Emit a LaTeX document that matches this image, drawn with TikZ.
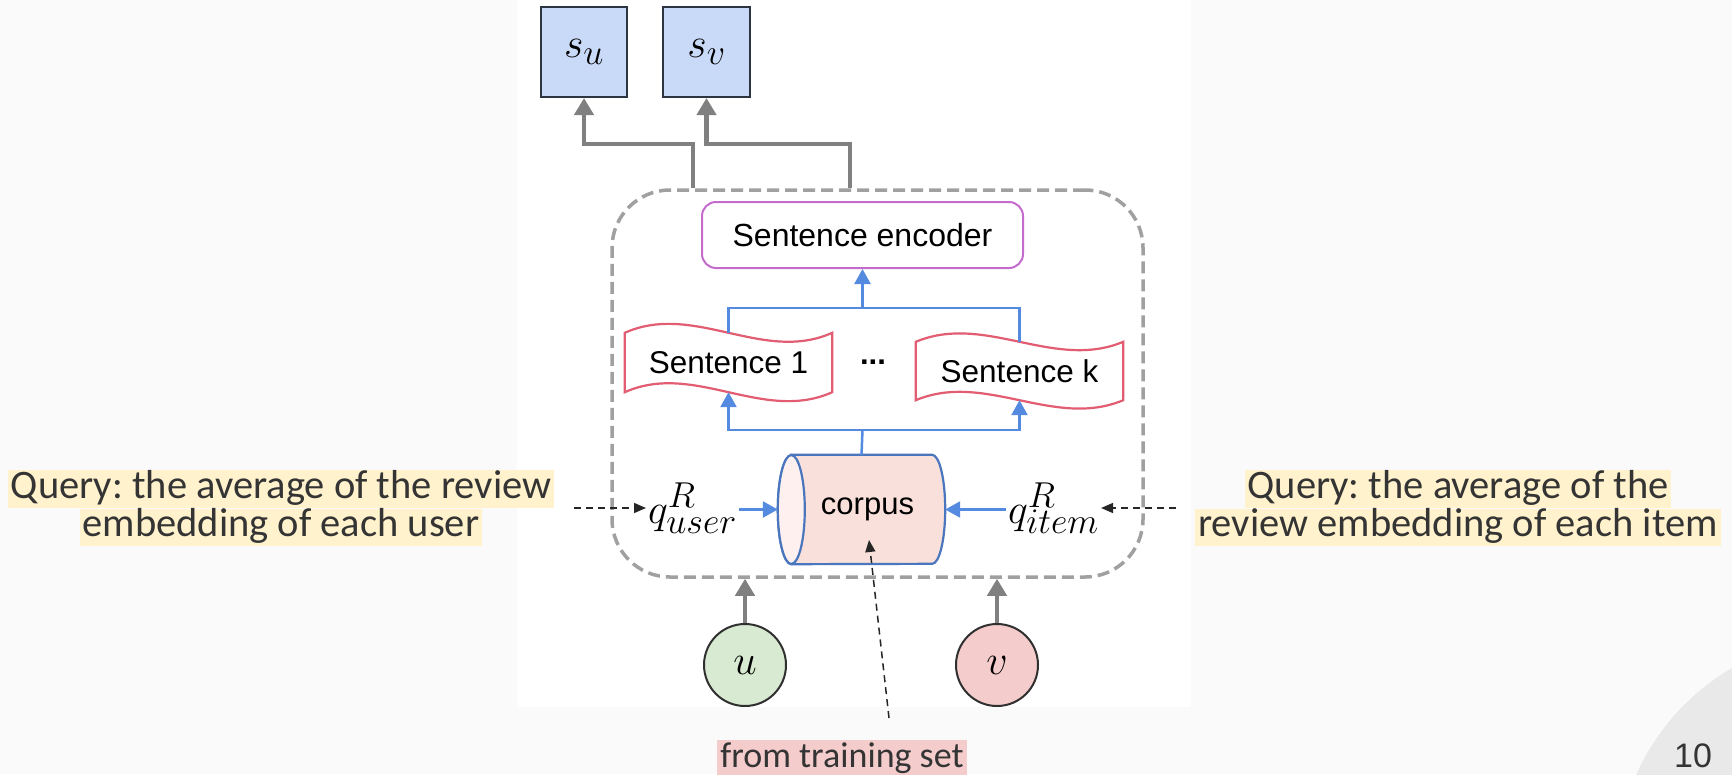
\RequirePackage{fix-cm}
\documentclass[tikz,border=0pt]{standalone}
\usepackage{fontspec}
\setmainfont{Liberation Sans}
\newfontfamily\slidefont{Carlito}
\usetikzlibrary{arrows.meta,calc}
\DeclareMathSizes{42}{42}{36}{28}
\frenchspacing

\definecolor{slidebg}{RGB}{250,250,250}
\definecolor{cornergray}{RGB}{233,233,233}
\definecolor{textdark}{RGB}{52,52,52}
\definecolor{hlyellow}{RGB}{255,242,204}
\definecolor{hlpink}{RGB}{244,204,204}
\definecolor{sboxfill}{RGB}{201,218,248}
\definecolor{sboxline}{RGB}{45,52,66}
\definecolor{arrowgray}{RGB}{128,128,128}
\definecolor{framegray}{RGB}{160,160,160}
\definecolor{encpurple}{RGB}{196,108,206}
\definecolor{sentred}{RGB}{226,92,114}
\definecolor{flowblue}{RGB}{84,139,224}
\definecolor{corpusfill}{RGB}{250,224,218}
\definecolor{corpusend}{RGB}{253,240,238}
\definecolor{corpusline}{RGB}{74,118,190}
\definecolor{ufill}{RGB}{217,234,211}
\definecolor{vfill}{RGB}{244,204,204}
\definecolor{circline}{RGB}{48,48,48}

\pgfdeclarelayer{bg}
\pgfsetlayers{bg,main}

% one highlighted line of slide text
\newcommand\hlrow[2]{{\setlength{\fboxsep}{0pt}\colorbox{#1}{\hspace{3pt}\rule[-9pt]{0pt}{37pt}#2\hspace{3pt}}}}

% wavy (tape) outline around a node: #1 node name, #2 wave control offset
\newcommand\tapeoutline[2]{%
  \path[sentline] let \p1=(#1.north west), \p2=(#1.south east), \n1={(\x2-\x1)/3} in
    (\x1,\y1) .. controls (\x1+\n1,\y1+#2) and (\x2-\n1,\y1-#2) .. (\x2,\y1)
    -- (\x2,\y2) .. controls (\x2-\n1,\y2-#2) and (\x1+\n1,\y2+#2) .. (\x1,\y2) -- cycle;}

% horizontal cylinder filling a node's box: #1 node name
\newcommand\cylinderbody[1]{%
  \filldraw[corpusbody] let \p1=(#1.north west), \p2=(#1.south east) in
    (\x1+13.5pt,\y1) -- (\x2-13pt,\y1)
    arc[start angle=90, end angle=-90, x radius=13pt, y radius=54.5pt]
    -- (\x1+13.5pt,\y2)
    arc[start angle=270, end angle=90, x radius=13.5pt, y radius=54.5pt] -- cycle;
  \filldraw[corpuscap] let \p3=(#1.west) in
    (\x3+13.5pt,\y3) ellipse[x radius=13.5pt, y radius=54.5pt];}

\begin{document}
\begin{tikzpicture}[x=1pt,y=-1pt,
  mathfont/.style={font=\fontsize{42}{48}\selectfont},
  sbox/.style={draw=sboxline, fill=sboxfill, line width=2pt, minimum width=86pt,
    minimum height=90pt, inner sep=0pt, mathfont},
  grayarrow/.style={draw=arrowgray, line width=4.5pt, -{Triangle[width=19pt,length=17pt]}},
  framebox/.style={draw=framegray, line width=3.5pt, dash pattern=on 12pt off 6pt,
    rounded corners=58pt, minimum width=531pt, minimum height=387pt},
  encbox/.style={draw=encpurple, line width=2pt, rounded corners=14pt, fill=white,
    minimum width=321pt, minimum height=66pt, font=\fontsize{32}{36}\selectfont},
  sentbox/.style={minimum width=207pt, minimum height=59pt, inner sep=0pt,
    font=\fontsize{31.5}{36}\selectfont},
  sentline/.style={draw=sentred, line width=2.2pt},
  blueline/.style={draw=flowblue, line width=2.5pt},
  bluearrow/.style={blueline, -{Triangle[width=16pt,length=15pt]}},
  corpusbody/.style={draw=corpusline, fill=corpusfill, line width=2.2pt},
  corpuscap/.style={draw=corpusline, fill=corpusend, line width=2.2pt},
  corpusbox/.style={minimum width=167pt, minimum height=109pt, inner sep=0pt,
    font=\fontsize{31}{36}\selectfont},
  mathlbl/.style={inner sep=2pt, mathfont},
  person/.style={circle, draw=circline, line width=2pt, minimum size=82pt,
    inner sep=0pt, mathfont},
  notearrow/.style={draw=black!85, line width=1.5pt, dash pattern=on 7pt off 5pt,
    -{Triangle[width=10pt,length=12pt]}},
  slidetext/.style={align=center, inner sep=0pt, text=textdark,
    font=\slidefont\fontsize{40.5}{37}\selectfont},
  pagenum/.style={inner sep=0pt, text=textdark, font=\fontsize{34}{38}\selectfont}]

\useasboundingbox (0,0) rectangle (1732,774);
\begin{pgfonlayer}{bg}
  \fill[slidebg] (0,0) rectangle (1732,774);
  \fill[white] (517,0) rectangle (1191,707);
  \begin{scope}
    \clip (0,0) rectangle (1732,774);
    \fill[cornergray] (1850,870) circle (234pt);
  \end{scope}
\end{pgfonlayer}

% outputs
\node[sbox] (su) at (584,52) {$s_u$};
\node[sbox, minimum width=87pt] (sv) at (706.5,52) {$s_v$};

% retrieval module
\node[framebox] (fr) at (877.5,383.5) {};
\node[encbox] (enc) at (862.5,235) {Sentence encoder};
\node[sentbox] (s1) at (728.5,362.5) {Sentence 1};
\node[sentbox, minimum height=58pt] (sk) at (1019.5,371) {Sentence k};
\tapeoutline{s1}{31pt}
\tapeoutline{sk}{29pt}
\node[font=\fontsize{31}{36}\selectfont\bfseries] (dots) at (873,362) {...};
\node[corpusbox] (cor) at (861.5,509.5) {\hspace*{12pt}corpus};
\begin{pgfonlayer}{bg}
  \cylinderbody{cor}
\end{pgfonlayer}
\node[mathlbl, anchor=base west] (qu) at (646,523) {$q^{R}_{user}$};
\node[mathlbl, anchor=base west] (qi) at (1006,523) {$q^{R}_{item}$};

% inputs
\node[person, fill=ufill] (u) at (745,665) {$u$};
\node[person, fill=vfill] (v) at (997,665) {$v$};

% annotations
\node[slidetext] (lq) at (281,508) {\hlrow{hlyellow}{Query: the average of the review}\\
  \hlrow{hlyellow}{embedding of each user}};
\node[slidetext] (rq) at (1458,508) {\hlrow{hlyellow}{Query: the average of the}\\
  \hlrow{hlyellow}{review embedding of each item}};
\node[slidetext, font=\slidefont\fontsize{36}{34}\selectfont] (ts) at (842,758)
  {\hlrow{hlpink}{from training set}};
\node[pagenum] (pn) at (1693,756) {10};

% grey connectors
\coordinate (d1) at (693,144);
\coordinate (d2) at (850,144);
\draw[grayarrow] (d1 |- fr.north) -- (d1) -| (su.south);
\draw[grayarrow] (d2 |- fr.north) -- (d2) -| (sv.south);
\draw[grayarrow] (u.north) -- (u.north |- fr.south);
\draw[grayarrow] (v.north) -- (v.north |- fr.south);

% blue flow
\coordinate (jt) at (862.5,308);
\coordinate (jb) at (862.5,430);
\draw[blueline] (s1.north) |- (jt) -| (sk.north);
\draw[bluearrow] (jt) -- (enc.south);
\draw[blueline] (cor.north) -- (jb);
\draw[bluearrow] (jb) -| (s1.south);
\draw[bluearrow] (jb) -| (sk.south);
\draw[bluearrow] (qu.east |- cor.west) -- (cor.west);
\draw[bluearrow] (qi.west |- cor.east) -- (cor.east);

% dashed pointers
\coordinate (lqend) at (574,508);
\coordinate (rqend) at (1176,508);
\coordinate (tsend) at (889,718);
\coordinate (cortip) at (869,540);
\draw[notearrow] (lqend) -- (qu.west |- lqend);
\draw[notearrow] (rqend) -- (qi.east |- rqend);
\draw[notearrow] (tsend) -- (cortip);
\end{tikzpicture}
\end{document}
